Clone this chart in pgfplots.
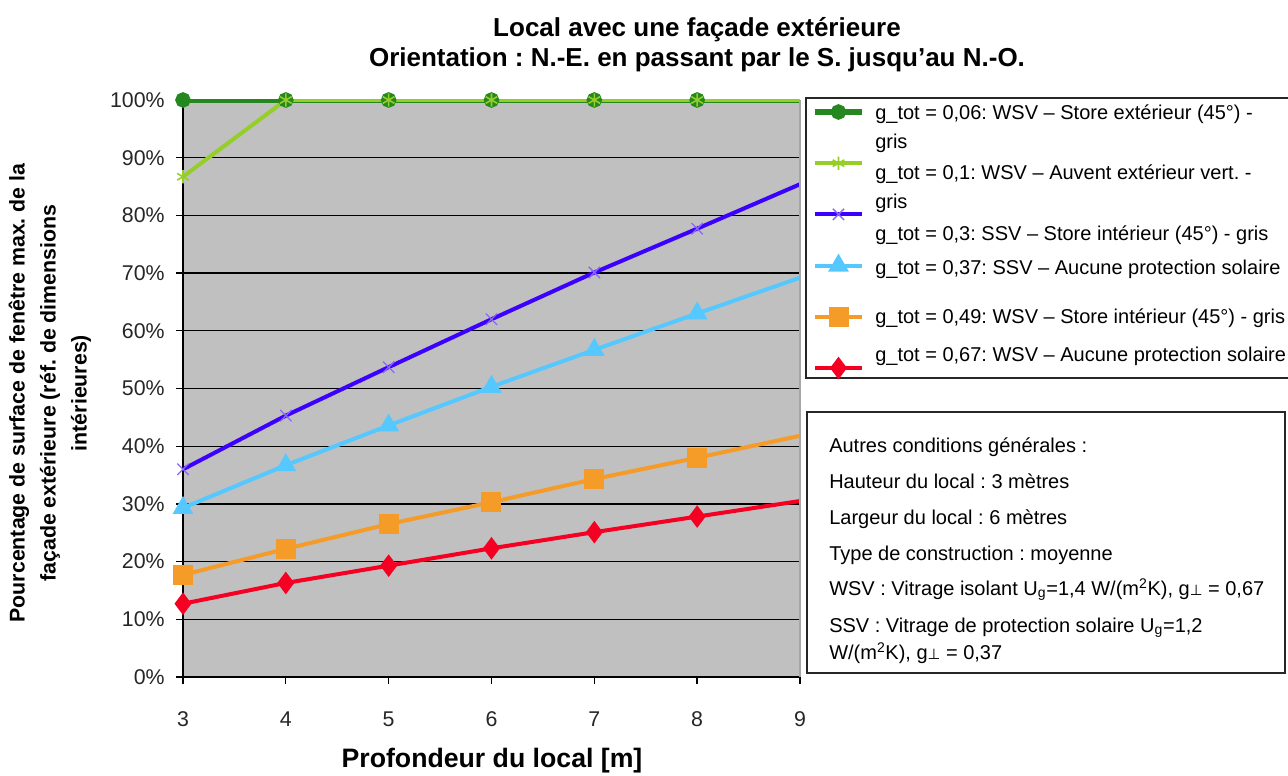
\documentclass[border=0pt]{standalone}
\usepackage{fontspec}
\setmainfont{Liberation Sans}
\newfontfamily\dejavu{DejaVu Sans}
\usepackage{pgfplots}
\pgfplotsset{compat=1.18}
\frenchspacing
\definecolor{bgray}{RGB}{192,192,192}
\definecolor{cdkgreen}{RGB}{36,135,32}
\definecolor{cltgreen}{RGB}{150,206,40}
\definecolor{cpurple}{RGB}{60,0,255}
\definecolor{cltblue}{RGB}{85,200,255}
\definecolor{corange}{RGB}{244,155,40}
\definecolor{cred}{RGB}{245,0,35}
\pgfplotsset{
  sA/.style={cdkgreen, line width=4pt, mark=*, mark size=3.75pt},
  sB/.style={cltgreen, line width=3pt, mark=asterisk, mark size=5pt, mark options={line width=1.2pt}},
  sC/.style={cpurple, line width=3pt, mark=x, mark size=6pt, mark options={line width=1pt, draw=cpurple!60!white}},
  sD/.style={cltblue, line width=3pt, mark=triangle*, mark size=6pt},
  sE/.style={corange, line width=3pt, mark=square*, mark size=6pt},
  sF/.style={cred, line width=3pt, mark=diamond*, mark size=6pt},
}
\newcommand{\gperp}{g{\dejavu\fontsize{11}{11}\selectfont ⊥}}
\begin{document}
\begin{tikzpicture}
\useasboundingbox (-137.25pt,-73.5pt) rectangle (828.75pt,507.75pt);
\begin{axis}[
  scale only axis, width=462.75pt, height=432.75pt,
  xmin=3, xmax=9, ymin=0, ymax=100,
  xtick={3,4,5,6,7,8,9}, ytick={0,10,...,100},
  yticklabel={\pgfmathprintnumber{\tick}\%},
  /pgf/number format/assume math mode=true,
  axis background/.style={fill=bgray},
  axis lines*=left,
  axis line style={line width=1pt, black},
  ymajorgrids, major grid style={line width=1pt, black},
  tick align=outside, major tick length=5.25pt,
  tick style={line width=1pt, black},
  tick label style={font=\fontsize{16}{19}\selectfont, text=black!85},
  xticklabel style={yshift=-17pt},
  yticklabel style={xshift=-5pt},
  after end axis/.code={\draw[black!35, line width=1pt] (rel axis cs:1,0) -- (rel axis cs:1,1);},
]
\addplot[sA, mark indices={1,2,3,4,5,6}]
  coordinates {(3,100) (4,100) (5,100) (6,100) (7,100) (8,100) (9,100)};
\addplot[sB, mark indices={1,2,3,4,5,6}]
  coordinates {(3,86.7) (4,100) (5,100) (6,100) (7,100) (8,100) (9,100)};
\addplot[sC, mark indices={1,2,3,4,5,6}]
  coordinates {(3,36.0) (4,45.3) (5,53.7) (6,62.0) (7,70.1) (8,77.7) (9,85.4)};
\addplot[sD, mark indices={1,2,3,4,5,6}]
  coordinates {(3,29.3) (4,36.7) (5,43.6) (6,50.3) (7,56.7) (8,63.0) (9,69.2)};
\addplot[sE, mark indices={1,2,3,4,5,6}]
  coordinates {(3,17.7) (4,22.2) (5,26.5) (6,30.3) (7,34.3) (8,38.0) (9,41.8)};
\addplot[sF, mark indices={1,2,3,4,5,6}]
  coordinates {(3,12.7) (4,16.3) (5,19.3) (6,22.3) (7,25.1) (8,27.8) (9,30.5)};
\end{axis}
\begin{scope}[shift={(-137.25pt,507.75pt)}, x=0.75pt, y=-0.75pt]
  % titles
  \node[anchor=base, inner sep=0pt, font=\bfseries\fontsize{19.5}{23}\selectfont] at (697,37) {Local avec une façade extérieure};
  \node[anchor=base, inner sep=0pt, font=\bfseries\fontsize{19.5}{23}\selectfont] at (697,67) {Orientation : N.-E. en passant par le S. jusqu’au N.-O.};
  \node[anchor=base, inner sep=0pt, font=\bfseries\fontsize{20}{24}\selectfont] at (492,767) {Profondeur du local [m]};
  \node[rotate=90, align=center, inner sep=0pt, font=\bfseries\fontsize{16}{23.25}\selectfont] at (50,393)
    {Pourcentage de surface de fenêtre max. de la\\façade extérieure (réf. de dimensions\\intérieures)};
  % legend box and texts
  \draw[line width=1.2pt, black!85, fill=white] (806,98) rectangle (1294,378);
  \begin{scope}[every node/.style={anchor=base west, inner sep=0pt, font=\fontsize{15}{18}\selectfont}]
    \node at (875,120) {g\_tot = 0,06: WSV -- Store extérieur (45°) -};
    \node at (875,149) {gris};
    \node at (875,180) {g\_tot = 0,1: WSV -- Auvent extérieur vert. -};
    \node at (875,209) {gris};
    \node at (875,241) {g\_tot = 0,3: SSV -- Store intérieur (45°) - gris};
    \node at (875,275) {g\_tot = 0,37: SSV -- Aucune protection solaire};
    \node at (875,324) {g\_tot = 0,49: WSV -- Store intérieur (45°) - gris};
    \node at (875,362) {g\_tot = 0,67: WSV -- Aucune protection solaire};
  \end{scope}
  % info box
  \draw[line width=1.2pt, black!85, fill=white] (807,412) rectangle (1285,673);
  \begin{scope}[every node/.style={anchor=base west, inner sep=0pt, font=\fontsize{15}{18}\selectfont}]
    \node at (829,453) {Autres conditions générales :};
    \node at (829,488) {Hauteur du local : 3 mètres};
    \node at (829,524) {Largeur du local : 6 mètres};
    \node at (829,560) {Type de construction : moyenne};
    \node at (829,595) {WSV : Vitrage isolant U\textsubscript{g}=1,4 W/(m\textsuperscript{2}K), \gperp{} = 0,67};
    \node at (829,632) {SSV : Vitrage de protection solaire U\textsubscript{g}=1,2};
    \node at (829,659) {W/(m\textsuperscript{2}K), \gperp{} = 0,37};
  \end{scope}
\end{scope}
% legend samples, drawn in their own small axis
\begin{axis}[
  at={(474pt,231.75pt)}, anchor=south west,
  scale only axis, width=35.25pt, height=192pt,
  xmin=0, xmax=2, ymin=0, ymax=5, hide axis, clip=false,
]
\addplot[sA, mark indices={2}] coordinates {(0,5) (1,5) (2,5)};
\addplot[sB, mark indices={2}] coordinates {(0,4) (1,4) (2,4)};
\addplot[sC, mark indices={2}] coordinates {(0,3) (1,3) (2,3)};
\addplot[sD, mark indices={2}] coordinates {(0,2) (1,2) (2,2)};
\addplot[sE, mark indices={2}] coordinates {(0,1) (1,1) (2,1)};
\addplot[sF, mark indices={2}] coordinates {(0,0) (1,0) (2,0)};
\end{axis}
\end{tikzpicture}
\end{document}
